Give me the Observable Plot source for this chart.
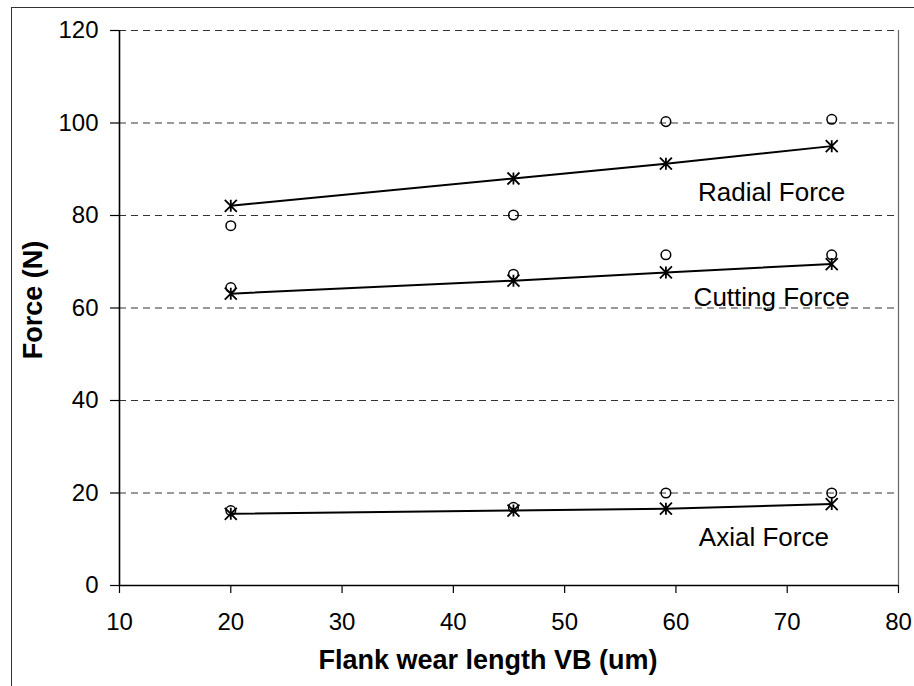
<!DOCTYPE html>
<html>
<head>
<meta charset="utf-8">
<script src="https://cdn.jsdelivr.net/npm/d3@7"></script>
<script src="https://cdn.jsdelivr.net/npm/@observablehq/plot@0.6"></script>
<style>
  html, body { margin: 0; padding: 0; background: #fff; }
  #wrap { position: relative; width: 914px; height: 686px; overflow: hidden; }
  #frame { position: absolute; left: 11px; top: 7px; width: 920px; height: 700px;
           border-left: 1px solid #333; border-top: 1px solid #333; box-sizing: border-box; }
  #chart { position: absolute; left: 0; top: 0; }
</style>
</head>
<body>
<div id="wrap"><div id="frame"></div><div id="chart"></div></div>
<script>
// Flank wear length VB (um)
const wearVB = [20, 45.4, 59.1, 74];

// Measured forces (N), drawn as open circles
const radialMeasured = [77.8, 80.1, 100.3, 100.8];
const cuttingMeasured = [64.4, 67.3, 71.5, 71.5];
const axialMeasured = [16.2, 16.9, 20.0, 20.0];

// Predicted forces (N), drawn as star markers joined by a line
const radialPredicted = [82.1, 88.0, 91.2, 95.0];
const cuttingPredicted = [63.1, 65.9, 67.7, 69.5];
const axialPredicted = [15.5, 16.2, 16.6, 17.6];

const seriesNames = ["Radial Force", "Cutting Force", "Axial Force"];
const xTicks = [10, 20, 30, 40, 50, 60, 70, 80];
const yTicks = [0, 20, 40, 60, 80, 100, 120];

const measured = [radialMeasured, cuttingMeasured, axialMeasured];
const predicted = [radialPredicted, cuttingPredicted, axialPredicted];

const measuredRows = measured.flatMap((vals, s) =>
  vals.map((v, i) => ({series: seriesNames[s], vb: wearVB[i], force: v})));
const predictedRows = predicted.flatMap((vals, s) =>
  vals.map((v, i) => ({series: seriesNames[s], vb: wearVB[i], force: v})));

// Series label anchors, in data units
const labelRows = [
  {text: seriesNames[0], vb: 68.6, force: 84.9},
  {text: seriesNames[1], vb: 68.6, force: 62.3},
  {text: seriesNames[2], vb: 67.9, force: 10.4}
];

// Star marker: an X with a vertical bar through it
const starSymbol = {
  draw(context, size) {
    const r = Math.sqrt(size / Math.PI);
    context.moveTo(-r, -r); context.lineTo(r, r);
    context.moveTo(r, -r); context.lineTo(-r, r);
    context.moveTo(0, -r); context.lineTo(0, r);
  }
};

const font = "'Liberation Sans', Arial, Helvetica, sans-serif";

const chart = Plot.plot({
  width: 914,
  height: 686,
  marginLeft: 119,
  marginRight: 16,
  marginTop: 30,
  marginBottom: 101,
  style: {fontFamily: font, fontSize: "24px", color: "#000", background: "transparent", overflow: "visible"},
  x: {domain: [10, 80]},
  y: {domain: [0, 120]},
  marks: [
    Plot.gridY(yTicks.filter(d => d > 0), {stroke: "#000", strokeOpacity: 0.8, strokeWidth: 1, strokeDasharray: "7,5"}),
    Plot.ruleX([80], {stroke: "#666", strokeWidth: 1.2}),
    Plot.axisY({ticks: yTicks, tickSize: 9, tickPadding: 12, label: null, fontSize: 24, strokeWidth: 1.2}),
    Plot.axisX({ticks: xTicks, tickSize: 8, tickPadding: 19, label: null, fontSize: 24, strokeWidth: 1.2}),
    Plot.ruleX([10], {stroke: "#000", strokeWidth: 1.6}),
    Plot.ruleY([0], {stroke: "#000", strokeWidth: 1.6}),
    Plot.line(predictedRows, {x: "vb", y: "force", z: "series", stroke: "#000", strokeWidth: 2}),
    Plot.dot(measuredRows, {x: "vb", y: "force", symbol: "circle", r: 4.8, stroke: "#000", strokeWidth: 1.5, fill: "none"}),
    Plot.dot(predictedRows, {x: "vb", y: "force", symbol: starSymbol, r: 6, stroke: "#000", strokeWidth: 1.8, fill: "none"}),
    Plot.text(labelRows, {x: "vb", y: "force", text: "text", fontSize: 26, fill: "#000", textAnchor: "middle"}),
    Plot.text(["Force (N)"], {frameAnchor: "left", textAnchor: "middle", dx: -86, dy: -8, rotate: -90, fontSize: 27, fontWeight: "bold", fill: "#000"}),
    Plot.text(["Flank wear length VB (um)"], {frameAnchor: "bottom", dx: -21, dy: 83, fontSize: 27, fontWeight: "bold", fill: "#000"})
  ]
});

document.getElementById("chart").appendChild(chart);
</script>
</body>
</html>
